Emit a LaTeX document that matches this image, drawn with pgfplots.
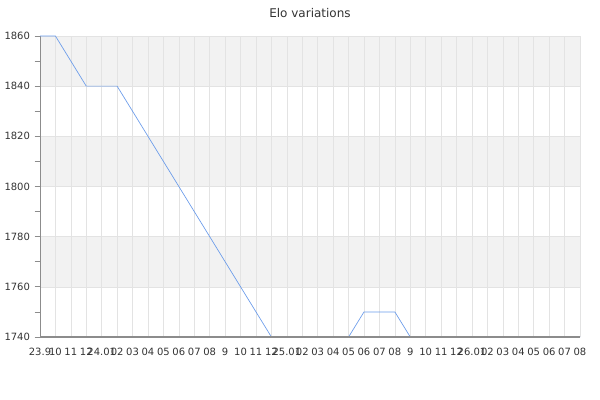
\documentclass[border=0pt]{standalone}
\usepackage{fontspec}
\setmainfont{DejaVu Sans}
\usepackage{pgfplots}
\pgfplotsset{compat=1.18}

\definecolor{eloline}{HTML}{6A9BEA}
\definecolor{band}{HTML}{F2F2F2}
\definecolor{gridc}{HTML}{E3E3E3}
\definecolor{axisc}{HTML}{8C8C8C}
\definecolor{txt}{HTML}{333333}

% plots above the grid
\pgfplotsset{
    layers/elo/.define layer set={
        axis background, axis grid, pre main, main, axis ticks, axis lines,
        axis tick labels, axis descriptions, axis foreground
    }{},
}

\begin{document}
\begin{tikzpicture}
\begin{axis}[
    set layers=elo,
    scale only axis,
    width=405pt, height=225.75pt,
    xmin=0, xmax=35,
    ymin=1740, ymax=1860,
    axis x line=bottom, axis y line=left,
    axis line style={axisc, line width=0.6pt, -},
    xtick={0,...,35},
    xticklabels={23.9,10,11,12,24.01,02,03,04,05,06,07,08,9,10,11,12,25.01,02,03,04,05,06,07,08,9,10,11,12,26.01,02,03,04,05,06,07,08},
    ytick={1740,1760,...,1860},
    minor ytick={1750,1770,...,1850},
    /pgf/number format/1000 sep={},
    /pgf/number format/assume math mode=true,
    yticklabel style={font=\fontsize{7.5}{9}\selectfont, text=txt},
    xticklabel style={font=\fontsize{7.5}{9}\selectfont, text=txt, yshift=-1pt, inner xsep=0pt},
    scaled y ticks=false,
    xmajorgrids, ymajorgrids,
    major grid style={gridc, line width=0.5pt},
    x tick style={draw=none},
    y tick style={axisc, line width=0.6pt},
    tick align=outside,
    major tick length=4pt, minor tick length=4pt,
    title={Elo variations},
    title style={anchor=base, yshift=8pt, font=\fontsize{9}{11}\selectfont, text=txt},
    clip=true,
]
% alternating background bands
\begin{pgfonlayer}{axis background}
\fill[band] (axis cs:0,1840) rectangle (axis cs:35,1860);
\fill[band] (axis cs:0,1800) rectangle (axis cs:35,1820);
\fill[band] (axis cs:0,1760) rectangle (axis cs:35,1780);
\end{pgfonlayer}

\addplot[eloline, line width=0.5pt, mark=none] coordinates {
(0,1860) (1,1860) (3,1840) (5,1840) (15,1740) (20,1740) (21,1750) (23,1750) (24,1740) (35,1740)
};
\end{axis}
% the x axis line lies over the stretches on 1740, as in the reference
\draw[axisc, line width=1pt] (current axis.south west) -- (current axis.south east);
\pgfresetboundingbox
\path[use as bounding box] ([shift={(-30pt,-47.25pt)}]current axis.south west) rectangle ([shift={(15pt,27pt)}]current axis.north east);
\end{tikzpicture}
\end{document}
